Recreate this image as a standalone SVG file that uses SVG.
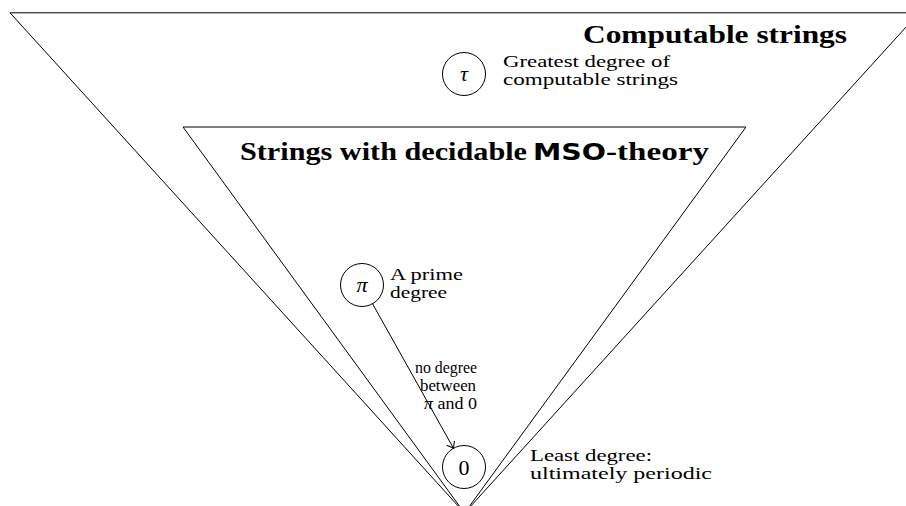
<svg xmlns="http://www.w3.org/2000/svg" width="906" height="506" viewBox="0 0 906 506">
<defs>
<style>
.edge{fill:none;stroke:#000;stroke-width:1}
.node{fill:#fff;stroke:#000;stroke-width:1}
.title{font-family:"Liberation Serif",serif;font-weight:bold;font-size:26px;fill:#000}
.sans{font-family:"DejaVu Sans","Liberation Sans",sans-serif;font-weight:bold;font-size:23px;fill:#000}
.lbl{font-family:"Liberation Serif",serif;font-size:16px;fill:#000}
.sym{font-family:"Liberation Serif",serif;font-style:italic;font-size:22px;fill:#000}
.num{font-family:"Liberation Serif",serif;font-size:22px;fill:#000}
</style>
<marker id="arr" markerWidth="12" markerHeight="12" refX="0" refY="0" viewBox="-7 -6 8 12" orient="auto" markerUnits="userSpaceOnUse">
<path d="M -6 -4.5 Q -1.5 -1 0 0 Q -1.5 1 -6 4.5" fill="none" stroke="#000" stroke-width="1"/>
</marker>
</defs>
<rect width="906" height="506" fill="#fff"/>
<g id="computable">
<polygon class="edge" points="10,12.8 919,12.8 464.5,513"/>
<text class="title" x="583" y="43" textLength="264" lengthAdjust="spacingAndGlyphs">Computable strings</text>
</g>
<g id="decidable">
<polygon class="edge" points="183,127 746,127 464.5,513"/>
<text class="title" x="240" y="160" textLength="287" lengthAdjust="spacingAndGlyphs">Strings with decidable</text>
<text class="sans" x="533" y="160" textLength="73" lengthAdjust="spacingAndGlyphs">MSO</text>
<text class="title" x="606" y="160" textLength="103" lengthAdjust="spacingAndGlyphs">-theory</text>
</g>
<g id="tau">
<circle class="node" cx="464" cy="74" r="21.5"/>
<text class="sym" x="464" y="81" text-anchor="middle">τ</text>
<text class="lbl" x="503" y="67" textLength="167" lengthAdjust="spacingAndGlyphs">Greatest degree of</text>
<text class="lbl" x="503" y="85" textLength="175" lengthAdjust="spacingAndGlyphs">computable strings</text>
</g>
<g id="pi">
<circle class="node" cx="362" cy="285" r="21.5"/>
<text class="sym" x="362" y="292" text-anchor="middle">π</text>
<text class="lbl" x="390" y="280" textLength="73" lengthAdjust="spacingAndGlyphs">A prime</text>
<text class="lbl" x="390" y="298" textLength="57" lengthAdjust="spacingAndGlyphs">degree</text>
</g>
<g id="zero">
<circle class="node" cx="464" cy="467" r="21.5"/>
<text class="num" x="464" y="475" text-anchor="middle">0</text>
<text class="lbl" x="530" y="461" textLength="122" lengthAdjust="spacingAndGlyphs">Least degree:</text>
<text class="lbl" x="530" y="479" textLength="182" lengthAdjust="spacingAndGlyphs">ultimately periodic</text>
</g>
<g id="connectors">
<line class="edge" x1="372.5" y1="303.7" x2="453.5" y2="448.3" marker-end="url(#arr)"/>
<text class="lbl" x="415" y="373" textLength="62" lengthAdjust="spacingAndGlyphs">no degree</text>
<text class="lbl" x="420" y="391" textLength="56" lengthAdjust="spacingAndGlyphs">between</text>
<text class="lbl" x="424" y="409" textLength="53" lengthAdjust="spacingAndGlyphs"><tspan font-style="italic">π</tspan> and 0</text>
</g>
</svg>
